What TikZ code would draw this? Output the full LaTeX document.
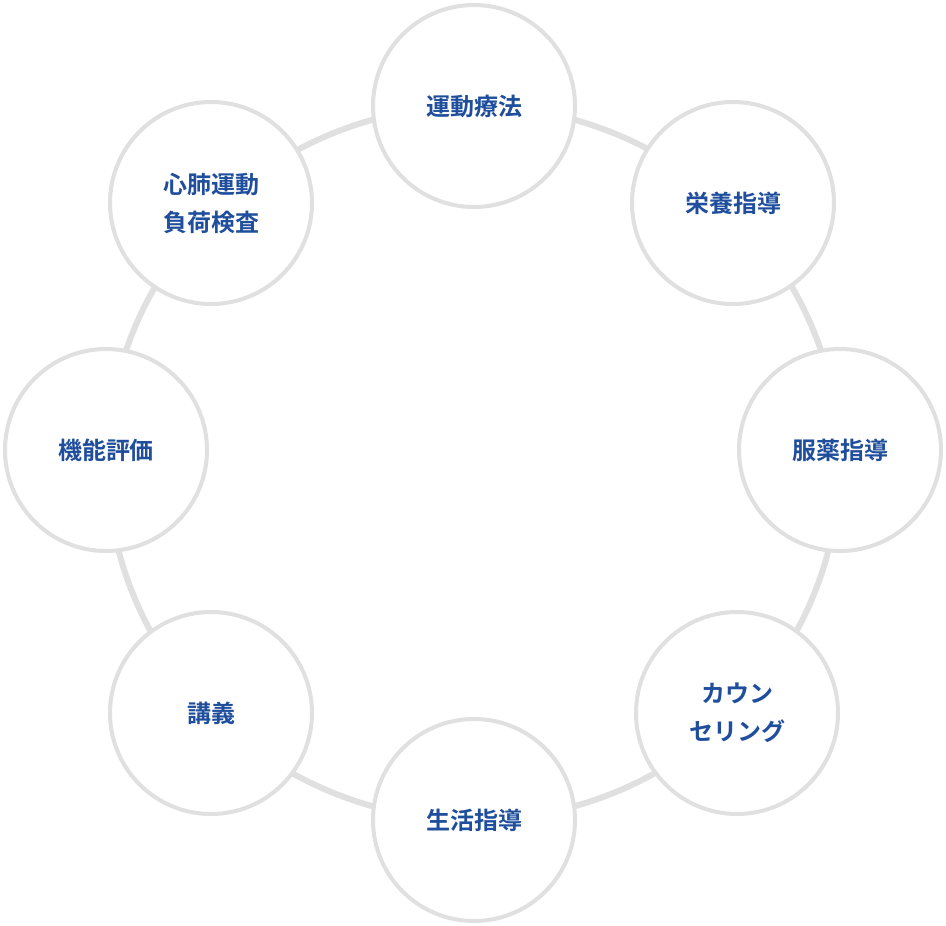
\documentclass[tikz,border=0pt]{standalone}
\usepackage{fontspec}
\newfontfamily\cjk{Noto Sans CJK JP}[BoldFont={Noto Sans CJK JP Bold}]
\definecolor{ring}{HTML}{E0E0E0}
\definecolor{txt}{HTML}{1F4E9C}
\begin{document}
\begin{tikzpicture}[x=1pt,y=-1pt,
  item/.style={circle,draw=ring,line width=4pt,fill=white,minimum size=202pt,inner sep=0pt,align=center,text=txt,font=\cjk\bfseries\fontsize{24}{38}\selectfont}]
\useasboundingbox[fill=white] (0,0) rectangle (946,926);
\coordinate (c) at (473.5,463);
\draw[ring,line width=6pt] (c) ellipse [x radius=366, y radius=357];
\node[item] (a) at (474,106) {運動療法};
\node[item] (b) at (733,203) {栄養指導};
\node[item] (d) at (840,450) {服薬指導};
\node[item] (e) at (737,713) {カウン\\セリング};
\node[item] (f) at (474,820) {生活指導};
\node[item] (g) at (211,713) {講義};
\node[item] (h) at (106,450) {機能評価};
\node[item] (i) at (211,203) {心肺運動\\負荷検査};
\end{tikzpicture}
\end{document}
